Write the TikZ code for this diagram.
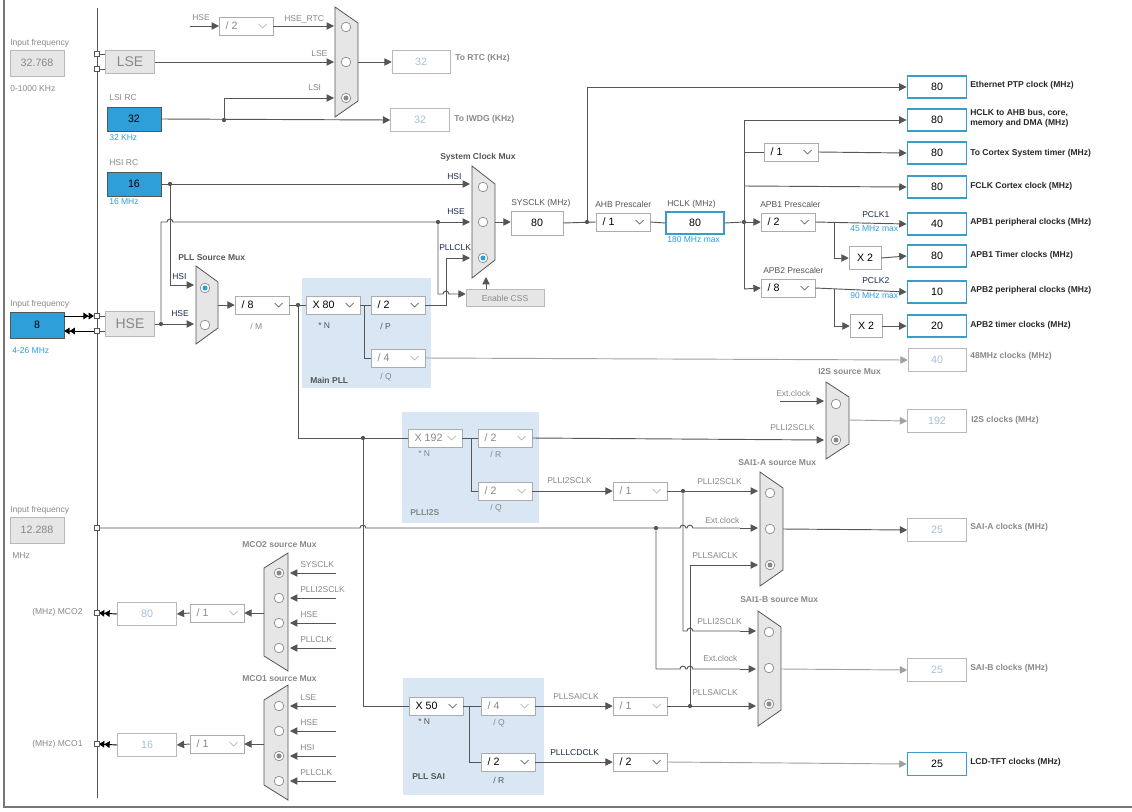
\documentclass[tikz,border=0pt]{standalone}
\usepackage{fontspec}
\setmainfont{Liberation Sans}
\usetikzlibrary{arrows.meta}

\definecolor{cblue}{HTML}{2E9FD8}
\definecolor{cbord}{HTML}{3A9CC8}
\definecolor{cwire}{HTML}{555555}
\definecolor{cgray}{HTML}{888888}
\definecolor{cnavy}{HTML}{1C2B4A}
\definecolor{cval}{HTML}{A8C0D6}
\definecolor{cbg}{HTML}{D9E7F4}
\definecolor{cfill}{HTML}{E6E6E6}

\newcommand\fs{\fontsize{6.4}{7.6}\selectfont}
\newcommand\fv{\fontsize{8}{9.5}\selectfont}

\tikzset{
  wire/.style={draw=cwire,line width=0.7pt},
  lwire/.style={draw=cgray!80,line width=0.7pt},
  arr/.style={wire,-{Triangle[length=5.5pt,width=5.5pt]}},
  larr/.style={lwire,-{Triangle[length=5.5pt,width=5.5pt]}},
  dbl/.style={draw=black,line width=0.7pt,-{Triangle[length=4pt,width=5pt]Triangle[length=4pt,width=5pt]}},
  lbl/.style={font=\fs,text=cgray,anchor=west,inner sep=0pt},
  dlbl/.style={font=\fs,text=cnavy,anchor=west,inner sep=0pt},
  blbl/.style={font=\fs\bfseries,text=cwire,anchor=west,inner sep=0pt},
  glbl/.style={font=\fs\bfseries,text=cgray,anchor=west,inner sep=0pt},
  clbl/.style={font=\fs,text=cblue,anchor=west,inner sep=0pt},
  box/.style={draw=cgray!60,fill=white,inner sep=0pt,font=\fv,text=cval},
  bbox/.style={draw=cgray!70,fill=white,inner sep=0pt,font=\fv,text=black},
  outb/.style={draw=cbord,line width=1.4pt,fill=white,inner sep=0pt,font=\fv,text=black},
  inb/.style={draw=cwire,fill=cblue,inner sep=0pt,font=\fv,text=black},
  gbox/.style={draw=cgray!60,fill=cfill,inner sep=0pt,font=\fv,text=cgray},
  dd/.style={draw=cgray!70,fill=white,inner sep=0pt,minimum height=13.5pt},
  ddt/.style={font=\fv,inner sep=0pt,anchor=west},
  mux/.style={draw=cwire,fill=cfill,line width=0.6pt},
  pin/.style={draw=cwire,fill=white,minimum size=4pt,inner sep=0pt},
  dot/.style={circle,fill=cwire,inner sep=0pt,minimum size=3.2pt},
}

% box: style, name, cx, cy, w, h, text
\newcommand\clkbox[7]{\node[#1,minimum width=#5*0.75pt,minimum height=#6*0.75pt] (#2) at (#3,#4) {#7};}
% dropdown: text colour, name, cx, cy, text
\newcommand\drop[5]{%
  \node[dd,minimum width=40.5pt] (#2) at (#3,#4) {};
  \node[ddt,text=#1] at ([xshift=5pt]#2.west) {#5};
  \draw[draw=#1!60,line width=0.5pt] ([xshift=-11pt,yshift=1.5pt]#2.east) -- ++(4,4) -- ++(4,-4);}
% mux facing right: x, top, bottom, width, slant
\newcommand\muxR[5]{\draw[mux] (#1,#2) -- (#1+#4,#2+#5) -- (#1+#4,#3-#5) -- (#1,#3) -- cycle;}
% mux facing left
\newcommand\muxL[5]{\draw[mux] (#1,#2) -- (#1-#4,#2+#5) -- (#1-#4,#3-#5) -- (#1,#3) -- cycle;}
% input ring: x, y, mark colour (none = empty)
\newcommand\ring[3]{\draw[draw=cgray,fill=white,line width=0.5pt] (#1,#2) circle (3.6pt);
  \ifx\relax#3\relax\else\fill[#3] (#1,#2) circle (1.9pt);\fi}
\newcommand\hump[2]{-- (#1-3,#2) arc[start angle=180,end angle=0,radius=2.2pt]}

\begin{document}
\begin{tikzpicture}[x=0.75pt,y=-0.75pt]
\useasboundingbox (0,0) rectangle (1132,811);

% frame and input rail
\draw[draw=cwire!80,line width=2.2pt] (4,0) -- (4,807) -- (1132,807);
\draw[wire,line width=0.5pt] (97,8) -- (97,798);

% PLL backgrounds
\fill[cbg] (302,278) rectangle (431,388);
\fill[cbg] (402,412) rectangle (539,523);
\fill[cbg] (403,678) rectangle (544,795);

% ---- LSE / RTC
\node[lbl] at (10,43) {Input frequency};
\clkbox{gbox}{lsein}{37}{63}{54}{26}{32.768}
\node[lbl] at (10,89) {0-1000 KHz};
\clkbox{gbox,font=\fontsize{10.5}{12}\selectfont}{lse}{130}{62}{49}{23}{LSE}
\draw[wire] (97,54) -- (lse.west |- 0,54);
\draw[wire] (97,69) -- (lse.west |- 0,69);
\node[pin] (lsep1) at (97,54) {};
\node[pin] (lsep2) at (97,69) {};
\node[lbl] at (192,18) {HSE};
\draw[arr] (190,26) -- (219,26);
\drop{cgray}{hsediv}{246}{26}{/ 2}
\node[lbl] at (284,19) {HSE\_RTC};
\draw[arr] (hsediv.east) -- (334,26);
\muxR{335}{7}{117}{23}{16}
\ring{346}{27}{}\ring{346}{62}{}\ring{346}{98}{cgray}
\node[lbl] at (311,54) {LSE};
\draw[arr] (lse.east) -- (334,62);
\clkbox{box}{rtc}{421}{62}{58}{23}{32}
\draw[arr] (358,62) -- (rtc.west);
\node[glbl] at (455,58) {To RTC (KHz)};

\node[lbl] at (109,98) {LSI RC};
\clkbox{inb}{lsi}{134}{119}{54}{24}{32}
\node[clbl] at (109,138) {32 KHz};
\clkbox{box}{iwdg}{420}{120}{59}{23}{32}
\draw[arr] (lsi.east) -- (iwdg.west);
\node[dot] (lsidot) at (224,120) {};
\draw[arr] (lsidot) |- (334,98);
\node[lbl] at (308,88) {LSI};
\node[glbl] at (454,119) {To IWDG (KHz)};

% ---- HSI / HSE / system clock mux
\node[lbl] at (109,163) {HSI RC};
\clkbox{inb}{hsi}{134}{184}{54}{24}{16}
\node[clbl] at (109,202) {16 MHz};
\muxR{472}{166}{278}{23}{18}
\ring{483}{187}{}\ring{483}{222}{}\ring{483}{258}{cblue}
\node[blbl] at (440,157) {System Clock Mux};
\draw[arr] (hsi.east) -- (470,184);
\node[dot] (hsidot) at (170,184) {};
\node[dlbl] at (447,177) {HSI};

\node[lbl] at (10,304) {Input frequency};
\clkbox{inb}{hsein}{37}{325}{54}{26}{8}
\node[clbl] at (12,351) {4-26 MHz};
\clkbox{gbox,font=\fontsize{10.5}{12}\selectfont}{hse}{130}{324}{49}{25}{HSE}
\draw[wire] (97,316) -- (hse.west |- 0,316);
\draw[wire] (97,331) -- (hse.west |- 0,331);
\draw[dbl] (hsein.east |- 0,316) -- (94,316);
\draw[dbl] (94,331) -- (hsein.east |- 0,331);
\node[pin] (hsep1) at (97,316) {};
\node[pin] (hsep2) at (97,331) {};
\node[dot] (hsedot) at (161,324) {};
\draw[wire] (hsedot) -- (161,222) \hump{170}{222} -- (438,222);
\draw[arr] (438,222) -- (470,222);
\node[dlbl] at (447,212) {HSE};
\node[dot] (cssdot) at (438,222) {};
\clkbox{gbox,font=\fs}{css}{505}{298}{78}{17}{Enable CSS}
\draw[wire] (cssdot) -- (438,294) \hump{446}{294} -- (458,294);
\draw[arr] (458,294) -- (css.west |- 0,294);
\draw[arr] (css.north -| 486,0) -- (486,277);
\node[dlbl] at (439,248) {PLLCLK};

\clkbox{bbox}{sysclk}{537}{223}{52}{24}{80}
\draw[arr] (495,222) -- (sysclk.west |- 0,222);
\node[lbl,text=cwire] at (511,203) {SYSCLK (MHz)};

% ---- PLL source mux and main PLL
\muxR{196}{266}{344}{22}{16}
\ring{205}{288}{cblue}\ring{205}{325}{}
\node[blbl] at (178,258) {PLL Source Mux};
\draw[arr] (hsidot) |- (194,285);
\node[dlbl] at (172,277) {HSI};
\draw[arr] (hse.east) -- (194,324);
\node[dlbl] at (171,314) {HSE};
\drop{black}{pllm}{262}{305}{/ 8}
\draw[arr] (218,305) -- (pllm.west);
\node[lbl] at (250,326) {/ M};
\drop{black}{plln}{333}{305}{X 80}
\node[dot] (mdot) at (298,305) {};
\draw[wire] (pllm.east) -- (plln.west);
\node[lbl,text=cwire] at (318,326) {* N};
\drop{black}{pllp}{398}{305}{/ 2}
\draw[wire] (plln.east) -- (pllp.west);
\node[lbl,text=cwire] at (380,326) {/ P};
\drop{cgray}{pllq}{398}{358}{/ 4}
\draw[wire] (364,305) |- (pllq.west);
\node[lbl] at (380,377) {/ Q};
\node[blbl] at (310,380) {Main PLL};
\draw[wire] (pllp.east) -- (446,305) -- (446,258);
\draw[arr] (446,258) -- (470,258);
\clkbox{box}{usb}{937}{360}{58}{23}{40}
\draw[larr] (pllq.east) -- (usb.west);
\node[glbl] at (970,356) {48MHz clocks (MHz)};

% ---- AHB / APB tree
\node[dot] (sysdot) at (587,222) {};
\clkbox{outb}{eth}{937}{87}{59}{22}{80}
\draw[arr] (sysdot) |- (eth.west);
\node[blbl,text=black!85] at (970,85) {Ethernet PTP clock (MHz)};
\drop{black}{ahb}{623}{222}{/ 1}
\draw[wire] (sysclk.east) -- (ahb.west);
\node[lbl,text=cwire] at (595,204) {AHB Prescaler};
\clkbox{outb}{hclk}{695}{223}{58}{22}{80}
\draw[wire] (ahb.east) -- (hclk.west);
\node[lbl,text=cwire] at (667,204) {HCLK (MHz)};
\node[clbl] at (667,240) {180 MHz max};
\node[dot] (hdot) at (744,222) {};
\draw[wire] (hclk.east) -- (hdot);
\draw[wire] (744,120) -- (744,289);
\clkbox{outb}{ahbo}{937}{120}{59}{22}{80}
\draw[arr] (744,120) -- (ahbo.west);
\node[blbl,text=black!85,align=left] at (970,118) {HCLK to AHB bus, core,\\memory and DMA (MHz)};
\drop{black}{systdiv}{791}{152}{/ 1}
\draw[wire] (744,152) -- (systdiv.west);
\clkbox{outb}{systo}{937}{153}{59}{22}{80}
\draw[arr] (systdiv.east) -- (systo.west);
\node[blbl,text=black!85] at (970,153) {To Cortex System timer (MHz)};
\clkbox{outb}{fclk}{937}{187}{59}{22}{80}
\draw[arr] (744,186) -- (fclk.west);
\node[blbl,text=black!85] at (970,186) {FCLK Cortex clock (MHz)};

\drop{black}{apb1}{788}{222}{/ 2}
\draw[arr] (hdot) -- (apb1.west);
\node[lbl,text=cwire] at (760,204) {APB1 Prescaler};
\clkbox{outb}{pclk1}{937}{224}{59}{22}{40}
\draw[arr] (apb1.east) -- (pclk1.west);
\node[dlbl] at (862,215) {PCLK1};
\node[clbl] at (850,229) {45 MHz max};
\clkbox{bbox}{tim1x}{865}{258}{32}{23}{X 2}
\draw[arr] (834,223) |- (tim1x.west);
\clkbox{outb}{tim1}{937}{256}{59}{22}{80}
\draw[arr] (tim1x.east) -- (tim1.west);
\node[blbl,text=black!85] at (970,255) {APB1 Timer clocks (MHz)};
\node[blbl,text=black!85] at (970,222) {APB1 peripheral clocks (MHz)};

\drop{black}{apb2}{788}{288}{/ 8}
\draw[arr] (744,289) -- (apb2.west);
\node[lbl,text=cwire] at (763,270) {APB2 Prescaler};
\clkbox{outb}{pclk2}{937}{292}{59}{22}{10}
\draw[arr] (apb2.east) -- (pclk2.west);
\node[dlbl] at (862,281) {PCLK2};
\node[clbl] at (850,296) {90 MHz max};
\clkbox{bbox}{tim2x}{866}{326}{32}{23}{X 2}
\draw[arr] (834,289) |- (tim2x.west);
\clkbox{outb}{tim2}{937}{326}{59}{22}{20}
\draw[arr] (tim2x.east) -- (tim2.west);
\node[blbl,text=black!85] at (970,290) {APB2 peripheral clocks (MHz)};
\node[blbl,text=black!85] at (970,325) {APB2 timer clocks (MHz)};

% ---- PLLI2S and I2S mux
\draw[wire] (mdot) |- (408,438);
\node[dot] (ndot) at (363,438) {};
\drop{cgray}{i2sn}{435}{438}{X 192}
\node[lbl] at (418,454) {* N};
\drop{cgray}{i2sr}{505}{438}{/ 2}
\node[lbl] at (490,454) {/ R};
\drop{cgray}{i2sq}{505}{491}{/ 2}
\node[lbl] at (490,508) {/ Q};
\draw[wire] (i2sn.east) -- (i2sr.west);
\draw[wire] (471,438) |- (i2sq.west);
\node[glbl] at (410,513) {PLLI2S};
\node[glbl] at (818,372) {I2S source Mux};
\muxR{826}{382}{459}{23}{15}
\ring{836}{404}{}\ring{836}{440}{cgray}
\node[lbl] at (776,393) {Ext.clock};
\draw[arr] (780,401) -- (824,401);
\node[lbl] at (770,428) {PLLI2SCLK};
\draw[arr] (i2sr.east) -- (824,440);
\clkbox{box}{i2s}{937}{421}{59}{23}{192}
\draw[larr] (849,420) -- (i2s.west);
\node[glbl] at (971,420) {I2S clocks (MHz)};

% ---- SAI muxes
\node[lbl] at (10,510) {Input frequency};
\clkbox{gbox}{extin}{37}{530}{54}{26}{12.288}
\node[lbl] at (12,556) {MHz};
\node[glbl] at (738,463) {SAI1-A source Mux};
\muxR{760}{472}{586}{23}{16}
\ring{770}{493}{}\ring{770}{529}{}\ring{770}{565}{cgray}
\node[glbl] at (740,600) {SAI1-B source Mux};
\muxR{758}{611}{726}{23}{16}
\ring{769}{632}{}\ring{769}{668}{}\ring{769}{704}{cgray}

\drop{cgray}{i2sdiv}{640}{491}{/ 1}
\draw[arr] (i2sq.east) -- (i2sdiv.west);
\node[lbl] at (547,481) {PLLI2SCLK};
\node[dot] (i2sdot) at (683,491) {};
\draw[arr] (i2sdiv.east) -- (758,491);
\node[lbl] at (697,482) {PLLI2SCLK};
\draw[wire] (97,528) \hump{363}{528} -- (656,528) \hump{683}{528} \hump{690}{528} -- (740,528);
\draw[arr] (740,528) -- (758,528);
\node[pin] (extp) at (97,528) {};
\node[lbl] at (705,520) {Ext.clock};
\node[dot] (extdot) at (656,528) {};
\draw[wire] (extdot) -- (656,669) \hump{683}{669} \hump{690}{669} -- (740,669);
\draw[arr] (740,669) -- (756,669);
\node[lbl] at (703,658) {Ext.clock};
\draw[wire] (i2sdot) -- (683,631) \hump{690}{631} -- (740,631);
\draw[arr] (740,631) -- (756,631);
\node[lbl] at (697,622) {PLLI2SCLK};
\node[dot] (saidot) at (690,706) {};
\draw[arr] (saidot) |- (758,565);
\node[lbl] at (692,556) {PLLSAICLK};

% ---- PLLSAI
\draw[wire] (ndot) |- (410,706);
\drop{black}{saln}{436}{706}{X 50}
\node[lbl,text=cwire] at (418,722) {* N};
\drop{cgray}{saiq}{508}{706}{/ 4}
\node[lbl] at (493,723) {/ Q};
\drop{black}{sair}{508}{762}{/ 2}
\node[lbl,text=cwire] at (493,780) {/ R};
\draw[wire] (saln.east) -- (saiq.west);
\draw[wire] (469,706) |- (sair.west);
\node[blbl] at (412,777) {PLL SAI};
\drop{cgray}{saidiv}{640}{706}{/ 1}
\draw[arr] (saiq.east) -- (saidiv.west);
\node[lbl] at (553,697) {PLLSAICLK};
\draw[arr] (saidiv.east) -- (756,706);
\node[lbl] at (692,693) {PLLSAICLK};
\clkbox{box}{saia}{937}{530}{59}{23}{25}
\draw[arr] (783,529) -- (saia.west);
\node[glbl] at (970,527) {SAI-A clocks (MHz)};
\clkbox{box}{saib}{937}{670}{59}{23}{25}
\draw[larr] (781,669) -- (saib.west);
\node[glbl] at (970,668) {SAI-B clocks (MHz)};
\drop{black}{lcddiv}{640}{762}{/ 2}
\draw[arr] (sair.east) -- (lcddiv.west);
\node[dlbl] at (550,753) {PLLLCDCLK};
\clkbox{outb}{lcd}{937}{764}{59}{23}{25}
\draw[larr] (lcddiv.east) -- (lcd.west);
\node[blbl,text=black!85] at (970,762) {LCD-TFT clocks (MHz)};

% ---- MCO outputs
\node[glbl] at (242,545) {MCO2 source Mux};
\muxL{288}{553}{671}{24}{15}
\ring{279}{573}{cgray}\ring{279}{598}{}\ring{279}{623}{}\ring{279}{648}{}
\foreach \yy/\tt in {573/SYSCLK,598/PLLI2SCLK,623/HSE,648/PLLCLK}{
  \draw[arr] (336,\yy) -- (290,\yy);
  \node[lbl] at (300,\yy-8) {\tt};}
\drop{cgray}{mco2div}{217}{613}{/ 1}
\draw[arr] (264,613) -- (mco2div.east);
\clkbox{box}{mco2}{147}{614}{59}{23}{80}
\draw[arr] (mco2div.west) -- (mco2.east);
\draw[dbl] (mco2.west) -- (99,613);
\node[pin] (mco2p) at (97,613) {};
\node[lbl] at (32,612) {(MHz) MCO2};

\node[glbl] at (242,679) {MCO1 source Mux};
\muxL{288}{685}{800}{24}{15}
\ring{279}{706}{}\ring{279}{731}{}\ring{279}{756}{cgray}\ring{279}{781}{}
\foreach \yy/\tt in {706/LSE,731/HSE,756/HSI,781/PLLCLK}{
  \draw[arr] (336,\yy) -- (290,\yy);
  \node[lbl] at (300,\yy-8) {\tt};}
\drop{cgray}{mco1div}{217}{744}{/ 1}
\draw[arr] (264,744) -- (mco1div.east);
\clkbox{box}{mco1}{147}{745}{59}{23}{16}
\draw[arr] (mco1div.west) -- (mco1.east);
\draw[dbl] (mco1.west) -- (99,744);
\node[pin] (mco1p) at (97,744) {};
\node[lbl] at (32,744) {(MHz) MCO1};
\end{tikzpicture}
\end{document}
